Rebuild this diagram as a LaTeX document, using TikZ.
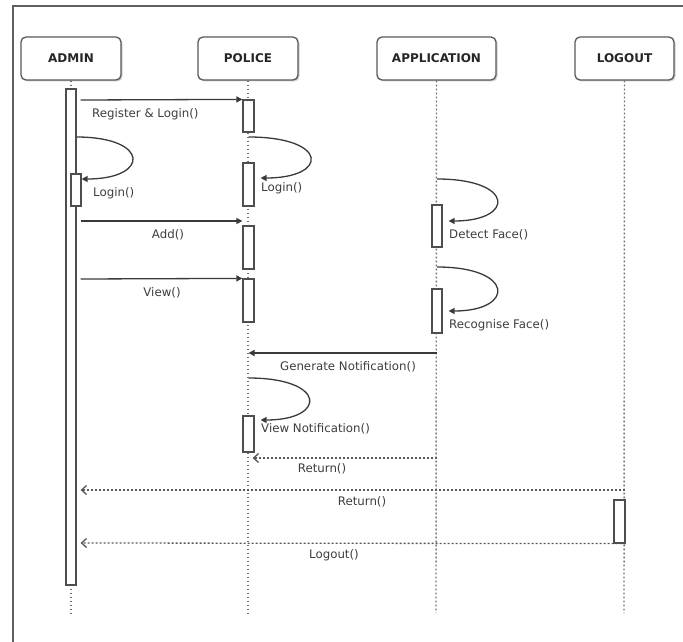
\documentclass[tikz,border=0pt]{standalone}
\usepackage{fontspec}
\setmainfont{DejaVu Sans}
\usetikzlibrary{arrows.meta,shadows}
\definecolor{frm}{HTML}{606060}
\definecolor{ln}{HTML}{3A3A3A}
\definecolor{lf}{HTML}{6E6E6E}
\definecolor{tx}{HTML}{3E3E3E}
\begin{document}
\begin{tikzpicture}[x=1pt,y=-1pt,
  head/.style={draw=ln!85,line width=1.3pt,rounded corners=5pt,fill=white,
    minimum height=43pt,inner sep=0pt,text=black!85,
    font=\bfseries\fontsize{12}{14}\selectfont,
    drop shadow={shadow xshift=1.5pt,shadow yshift=-1.5pt,opacity=0.3,fill=black!60}},
  life/.style={draw=lf,line width=1.4pt,dash pattern=on 1.8pt off 2.2pt},
  actbar/.style={draw=ln!90,line width=1.2pt,fill=white,inner sep=0pt},
  msg/.style={draw=ln,line width=1.3pt,-{Triangle[length=6pt,width=6pt]}},
  ret/.style={draw=ln!85,line width=1.3pt,dash pattern=on 2pt off 2pt,
    -{Straight Barb[length=5pt,width=9pt]}},
  lab/.style={text=tx,inner sep=0pt,font=\fontsize{11.8}{14}\selectfont},
]
\useasboundingbox (0,0) rectangle (683,642);
\fill[white] (0,0) rectangle (683,642);
% frame
\draw[frm,line width=1.6pt] (683,6) -- (13,6) -- (13,642);

% headers
\node[head,minimum width=100pt] (admin) at (71,58.5) {ADMIN};
\node[head,minimum width=100pt] (police) at (248,58.5) {POLICE};
\node[head,minimum width=119pt] (app) at (436.5,58.5) {APPLICATION};
\node[head,minimum width=99pt] (logout) at (624.5,58.5) {LOGOUT};

% lifeline ends
\coordinate (adminend) at (71,613);
\coordinate (policeend) at (248,613);
\coordinate (append) at (436,613);
\coordinate (logoutend) at (624,613);
\draw[life] (admin) -- (adminend);
\draw[life] (police) -- (policeend);
\draw[life] (app) -- (append);
\draw[life] (logout) -- (logoutend);

% activation bars
\node[actbar,minimum width=10pt,minimum height=496pt] (abar) at (71,337) {};
\node[actbar,minimum width=10pt,minimum height=32pt] (ab2) at (76,190) {};
\node[actbar,minimum width=11pt,minimum height=32pt] (pb1) at (248.5,116) {};
\node[actbar,minimum width=11pt,minimum height=43pt] (pb2) at (248.5,184.5) {};
\node[actbar,minimum width=11pt,minimum height=43pt] (pb3) at (248.5,247.5) {};
\node[actbar,minimum width=11pt,minimum height=43pt] (pb4) at (248.5,300.5) {};
\node[actbar,minimum width=10pt,minimum height=42pt] (apb1) at (437,226) {};
\node[actbar,minimum width=10pt,minimum height=44pt] (apb2) at (437,311) {};
\node[actbar,minimum width=11pt,minimum height=36pt] (pb5) at (248.5,434) {};
\node[actbar,minimum width=11pt,minimum height=43pt] (lb) at (619.5,521.5) {};

% y levels
\coordinate (y100) at (0,100);
\coordinate (y137) at (0,137);
\coordinate (y179) at (0,179);
\coordinate (y178) at (0,178);
\coordinate (y221) at (0,221);
\coordinate (y279) at (0,279);
\coordinate (y267) at (0,267);
\coordinate (y311) at (0,311);
\coordinate (y353) at (0,353);
\coordinate (y378) at (0,378);
\coordinate (y420) at (0,420);
\coordinate (y458) at (0,458);
\coordinate (y490) at (0,490);
\coordinate (y543) at (0,543);

% messages
\draw[msg] ([xshift=4pt]abar.east |- y100) -- (pb1.north west);
\draw[msg] (abar.east |- y137) .. controls (150,137) and (150,179) .. (ab2.east |- y179);
\draw[msg] (pb1.south |- y137) .. controls (329,137) and (329,178) .. ([xshift=6pt]pb2.east |- y178);
\draw[msg] ([xshift=4pt]abar.east |- y221) -- (pb3.west |- y221);
\draw[msg] ([xshift=4pt]abar.east |- y279) -- (pb4.north west);
\draw[msg] (apb1.north |- y179) .. controls (515,179) and (515,221) .. ([xshift=6pt]apb1.east |- y221);
\draw[msg] (apb2.north |- y267) .. controls (515,267) and (515,311) .. ([xshift=6pt]apb2.east |- y311);
\draw[msg] (apb2.south |- y353) -- (pb5.north |- y353);
\draw[msg] (pb5.north |- y378) .. controls (327,378) and (327,420) .. ([xshift=6pt]pb5.east |- y420);
\draw[ret] (apb2.south |- y458) -- ([xshift=-2pt]pb5.south east |- y458);
\draw[ret] (logout.south |- y490) -- ([xshift=4pt]abar.east |- y490);
\draw[ret] (lb.south east) -- ([xshift=4pt]abar.east |- y543);

% labels
\node[lab,anchor=west] (l1) at (92,114) {Register \& Login()};
\node[lab,anchor=west] (l2) at (93,193) {Login()};
\node[lab,anchor=west] (l3) at (261,188) {Login()};
\node[lab] (l4) at (168,235) {Add()};
\node[lab] (l5) at (162,293) {View()};
\node[lab,anchor=west] (l6) at (449,235) {Detect Face()};
\node[lab,anchor=west] (l7) at (449,325) {Recognise Face()};
\node[lab] (l8) at (348,367) {Generate Notification()};
\node[lab,anchor=west] (l9) at (261,429) {View Notification()};
\node[lab] (l10) at (322,469) {Return()};
\node[lab] (l11) at (362,502) {Return()};
\node[lab] (l12) at (334,555) {Logout()};
\end{tikzpicture}
\end{document}
